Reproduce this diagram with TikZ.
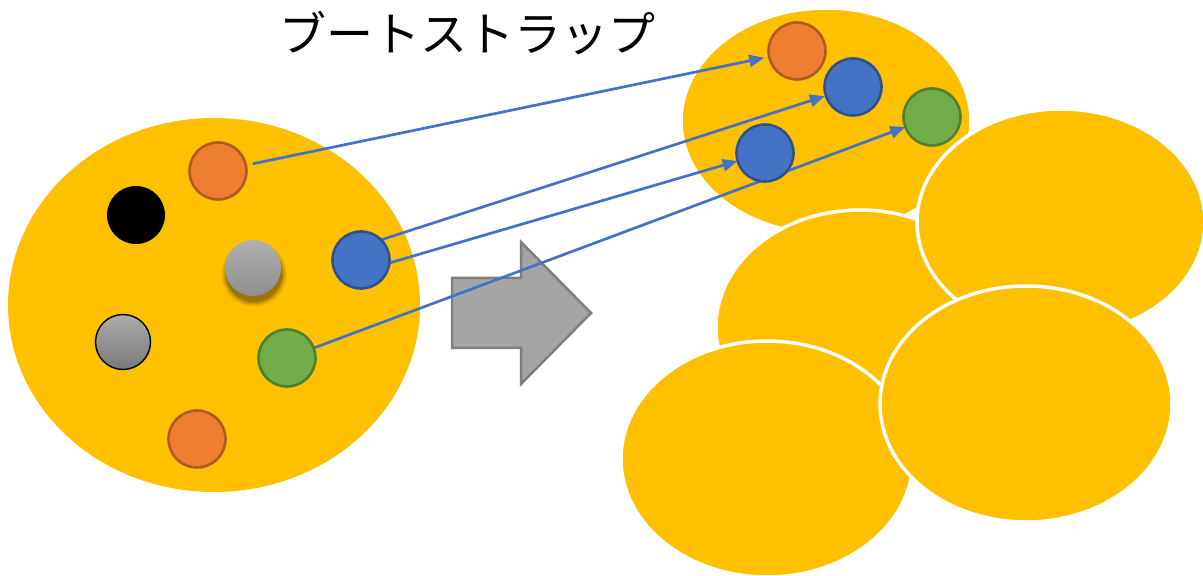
\documentclass[tikz,border=0pt]{standalone}
\usepackage{fontspec}
\newfontfamily\cjk{Noto Sans CJK JP}
\usetikzlibrary{arrows.meta}
\definecolor{gold}{HTML}{FFC000}
\definecolor{org}{HTML}{ED7D31}
\definecolor{orgd}{HTML}{AE5A21}
\definecolor{blu}{HTML}{4472C4}
\definecolor{blud}{HTML}{2F528F}
\definecolor{grn}{HTML}{70AD47}
\definecolor{grnd}{HTML}{507E32}
\definecolor{arr}{HTML}{4472C4}
\definecolor{bigg}{HTML}{A5A5A5}
\definecolor{biggd}{HTML}{7F7F7F}
\pgfdeclarelayer{bg}
\pgfdeclarelayer{mid}
\pgfsetlayers{bg,mid,main}
\tikzset{
  pool/.style={fill=gold, draw=white, line width=3.5pt},
  ball/.style={circle, minimum size=57pt, inner sep=0pt, line width=2.6pt, outer sep=0pt},
  oball/.style={ball, fill=org, draw=orgd},
  bball/.style={ball, fill=blu, draw=blud},
  gball/.style={ball, fill=grn, draw=grnd},
  link/.style={draw=arr, line width=2.7pt, -{Triangle[length=15pt,width=12pt]}},
}
\begin{document}
\begin{tikzpicture}[x=1pt,y=1pt]
\useasboundingbox (0,0) rectangle (1203,576);
\begin{pgfonlayer}{bg}
% pools
\fill[gold] (214,271) ellipse [x radius=206, y radius=187];
\path[pool] (826,455) ellipse [x radius=145, y radius=113];
\path[pool] (860,249) ellipse [x radius=144, y radius=117];
\path[pool] (1061,354) ellipse [x radius=144, y radius=113];
\path[pool] (767,117) ellipse [x radius=146, y radius=118];
\path[pool] (1026,172) ellipse [x radius=146, y radius=118];
% block arrow
\draw[fill=bigg, draw=biggd, line width=2.5pt, line join=miter]
  (452,298) -- (452,228) -- (521,228) -- (521,192) -- (591,263) -- (521,334) -- (521,298) -- cycle;
\foreach \r/\o in {33/0.04,32/0.05,31/0.06,30/0.08,29/0.1,28/0.12}
  \fill[black, opacity=\o] (254,302) circle (\r);
\end{pgfonlayer}
% left balls
\node[oball] (lo1) at (218,405) {};
\node[ball, fill=black, draw=none, minimum size=58pt] (lk) at (136,361) {};
\node[ball, minimum size=56pt, top color=gray!62, bottom color=gray!90!black!80, draw=none] (ls) at (253,308) {};
\node[ball, minimum size=55pt, top color=gray!65, bottom color=gray!95!black, draw=black, line width=1.4pt] (lg2) at (123,234) {};
\node[bball] (lb) at (361,316) {};
\node[gball] (lg) at (287,218) {};
\node[oball] (lo2) at (197,137) {};
% right balls
\node[oball] (ro) at (797,525) {};
\node[bball] (rb) at (853,489) {};
\node[gball] (rg) at (932,459) {};
\node[bball] (rb2) at (765,423) {};
% links
\begin{pgfonlayer}{mid}
\draw[link, shorten <=7pt, shorten >=5pt] (lo1) -- (ro);
\draw[link, shorten >=1pt] (lb.45) -- (rb);
\draw[link] (lb.-6) -- (rb2);
\draw[link] (lg) -- (rg);
\end{pgfonlayer}
% title
\node[font=\cjk\fontsize{47}{52}\selectfont, inner sep=0pt] (title) at (467,543) {ブートストラップ};
\end{tikzpicture}
\end{document}
